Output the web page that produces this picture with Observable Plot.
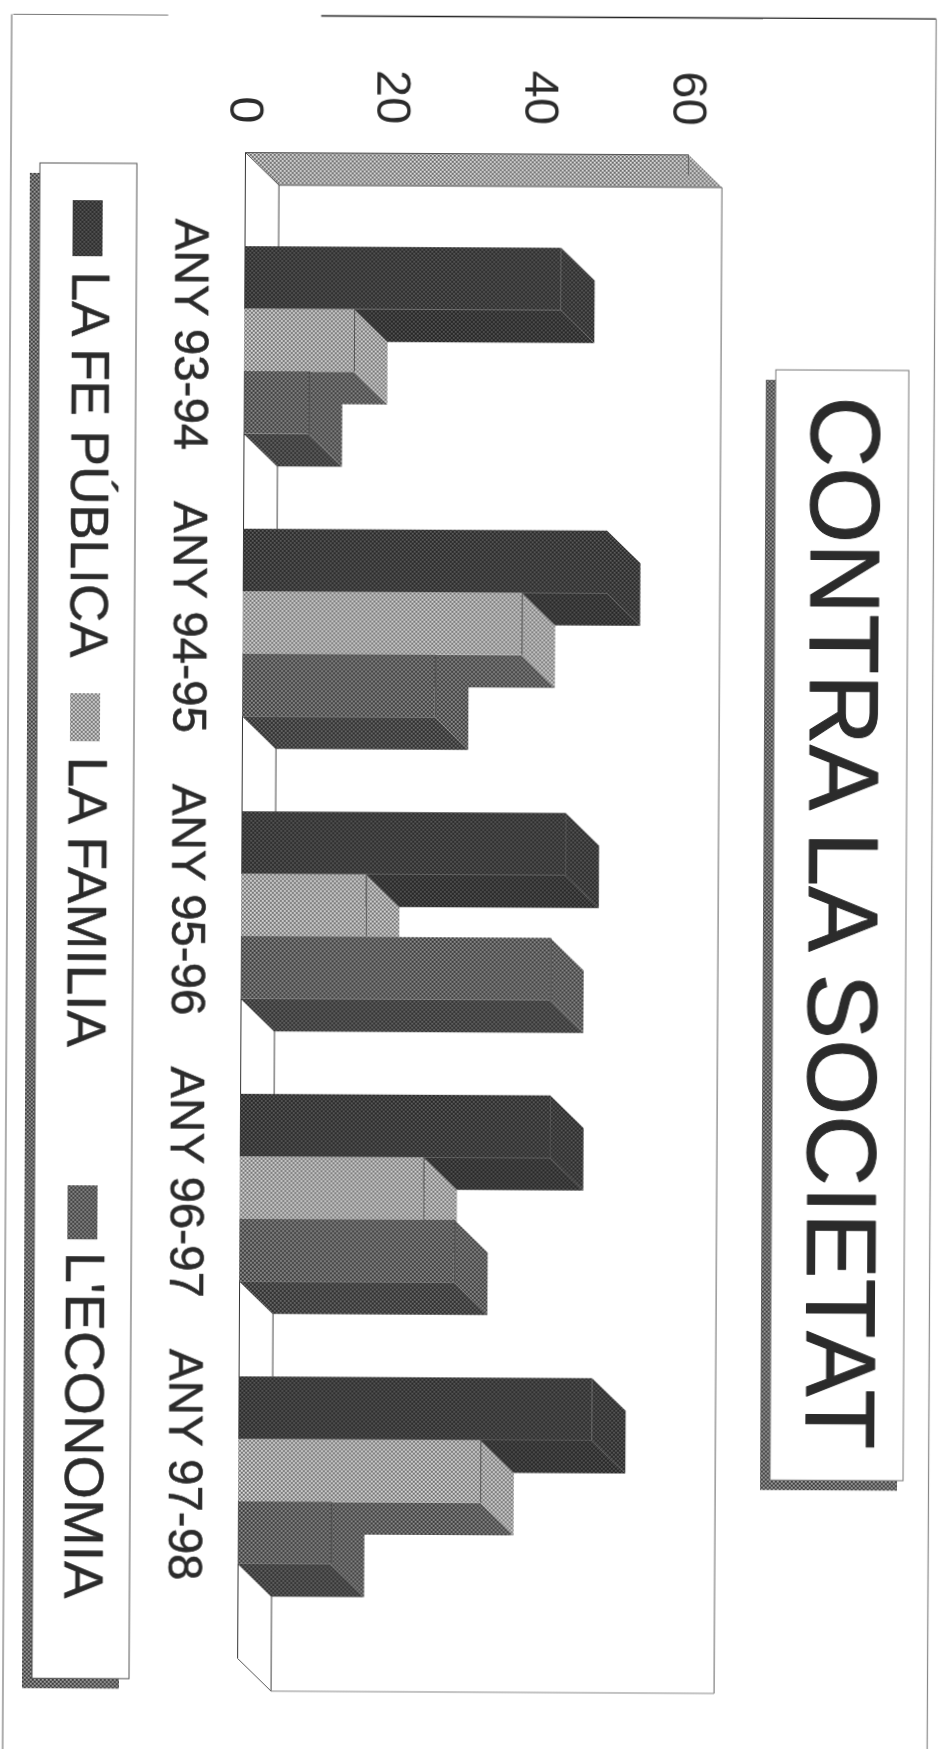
<!DOCTYPE html>
<html>
<head>
<meta charset="utf-8">
<style>
html,body{margin:0;padding:0;background:#fff;width:938px;height:1749px;overflow:hidden}
svg{display:block;transform-origin:245px 152px;transform:rotate(0.3deg);filter:blur(0.45px)}
</style>
<script src="https://cdn.jsdelivr.net/npm/d3@7"></script>
<script src="https://cdn.jsdelivr.net/npm/@observablehq/plot@0.6"></script>
</head>
<body>
<script>
const chartTitle = "CONTRA LA SOCIETAT";
const categories = ["ANY 93-94","ANY 94-95","ANY 95-96","ANY 96-97","ANY 97-98"];
const seriesNames = ["LA FE PÚBLICA","LA FAMILIA","L'ECONOMIA"];
const laFePublica = [42.9,49.3,43.9,42.0,47.9];
const laFamilia   = [14.9,37.8,16.9,24.9,32.8];
const lEconomia   = [8.8,26.1,41.9,29.1,12.6];
const valueTicks  = [0,20,40,60];

// layout in the chart's own scale units
const pxX = 443/60, pxY = 282.5;
const X = p => (p-245)/pxX, Y = p => (p-152)/pxY;
const depthX = 4.55, depthY = 0.115, outer = 0.3333, barH = 0.2212;
const FONT = "Liberation Sans, Arial, sans-serif";
const INK = "#2b2b2b";

const seriesValues = [laFePublica, laFamilia, lEconomia];
const looks = [
  {front:"url(#pDark)", end:"url(#pDark)",  bottom:"url(#pDarkSide)", edge:"none"},
  {front:"url(#pLight)",end:"url(#pLight)", bottom:"url(#pMid)",      edge:"#555"},
  {front:"url(#pMid)",  end:"url(#pMid)",   bottom:"url(#pMidSide)",  edge:"#4f4f4f"}
];

function quad(id, pts){
  return [
    {z:id,x1:pts[0][0],y1:pts[0][1],x2:pts[3][0],y2:pts[3][1]},
    {z:id,x1:pts[1][0],y1:pts[1][1],x2:pts[2][0],y2:pts[2][1]}
  ];
}
const areaOf = (rows, opts) => Plot.area(rows,{x1:"x1",y1:"y1",x2:"x2",y2:"y2",z:"z",...opts});
const seg = (x1,y1,x2,y2,stroke,w=1) => Plot.link([{x1,y1,x2,y2}],{x1:"x1",y1:"y1",x2:"x2",y2:"y2",stroke,strokeWidth:w});

const marks = [];

// page frame of the scan
marks.push(seg(X(12),Y(15),X(167),Y(15),"#777",1.2));
marks.push(seg(X(320),Y(15),X(935),Y(15),"#222",1.3));
marks.push(seg(X(10.5),Y(15),X(10.5),Y(1760),"#777",1.2));
marks.push(seg(X(935),Y(15),X(935),Y(1760),"#888",1.2));

// 3D box: top band, back wall lines
marks.push(areaOf(quad("band",[[0,0],[60,0],[60+depthX,depthY],[depthX,depthY]]),{fill:"url(#pBand)"}));
marks.push(seg(0,0,0,5.33,"#333"));
marks.push(seg(0,0,60,0,"#555"));
marks.push(seg(0,0,depthX,depthY,"#555"));
marks.push(seg(60,0,60,0.07,"#666"));
marks.push(seg(depthX,depthY,60+depthX,depthY,"#444"));
marks.push(seg(depthX,depthY,depthX,5.33+depthY,"#444"));
marks.push(seg(60+depthX,depthY,60+depthX,5.33+depthY,"#666"));
marks.push(seg(0,5.33,depthX,5.33+depthY,"#555"));
marks.push(seg(depthX,5.33+depthY,60+depthX,5.33+depthY,"#888"));

// bars
seriesValues.forEach((vals,k)=>{
  const rows = vals.map((v,g)=>({v,top:g+outer+k*barH,bottom:g+outer+(k+1)*barH}));
  const look = looks[k];
  marks.push(areaOf(rows.flatMap((d,i)=>quad("b"+i,[[0,d.bottom],[d.v,d.bottom],[d.v+depthX,d.bottom+depthY],[depthX,d.bottom+depthY]])),{fill:look.bottom}));
  marks.push(areaOf(rows.flatMap((d,i)=>quad("e"+i,[[d.v,d.top],[d.v+depthX,d.top+depthY],[d.v+depthX,d.bottom+depthY],[d.v,d.bottom]])),{fill:look.end}));
  marks.push(Plot.rect(rows,{x1:0,x2:"v",y1:"top",y2:"bottom",fill:look.front}));
  marks.push(Plot.ruleX(rows,{x:"v",y1:"top",y2:"bottom",stroke:look.edge,strokeWidth:1}));
});

// category labels
marks.push(Plot.text(categories,{
  x:X(191), y:(d,i)=>i+outer+1.5*barH-0.02, text:d=>d, rotate:90,
  fontSize:47.5, fill:INK, stroke:INK, strokeWidth:0.6, textAnchor:"middle", lineAnchor:"middle", fontFamily:FONT
}));

// value axis
marks.push(Plot.axisX({anchor:"top",ticks:valueTicks,tickSize:0,tickPadding:29,tickRotate:90,
  fontSize:49,fill:INK,stroke:INK,strokeWidth:0.6,label:null,fontFamily:FONT,tickFormat:d=>String(d)}));

// title box
marks.push(Plot.rect([0],{x1:X(767),x2:X(904),y1:Y(377),y2:Y(1487),fill:"url(#pShadow)"}));
marks.push(Plot.rect([0],{x1:X(777),x2:X(910),y1:Y(367),y2:Y(1477),fill:"#fff",stroke:"#777",strokeWidth:1}));
marks.push(Plot.text([chartTitle],{x:X(844),y:Y(919),text:d=>d,rotate:90,fontSize:98,fill:INK,stroke:INK,strokeWidth:1,
  textAnchor:"middle",lineAnchor:"middle",fontFamily:FONT}));

// legend box
marks.push(Plot.rect([0],{x1:X(30),x2:X(127),y1:Y(174),y2:Y(1689),fill:"url(#pShadow)"}));
marks.push(Plot.rect([0],{x1:X(40),x2:X(137),y1:Y(164),y2:Y(1679),fill:"#fff",stroke:"#555",strokeWidth:1}));
const legendFill = ["url(#pDark)","url(#pLight)","url(#pMid)"];
const swatchTop = [201,694,1186], swatchBottom = [257,742,1240], textTop = [272,757,1252], legendSize = [53,55,56];
marks.push(Plot.rect(seriesNames,{x1:X(73),x2:X(103),y1:(d,i)=>Y(swatchTop[i]),y2:(d,i)=>Y(swatchBottom[i]),fill:(d,i)=>i}));
seriesNames.forEach((name,i)=>marks.push(Plot.text([name],{x:X(89),y:Y(textTop[i]),text:d=>d,rotate:90,fontSize:legendSize[i],fill:INK,stroke:INK,strokeWidth:0.5,
  textAnchor:"start",lineAnchor:"middle",fontFamily:FONT})));

const svg = Plot.plot({
  width:938,height:1749,
  marginTop:152,marginBottom:91,marginLeft:245,marginRight:250,
  style:{background:"transparent",fontFamily:FONT,overflow:"visible"},
  x:{domain:[0,60],axis:null},
  y:{domain:[0,5.33],reverse:true,axis:null},
  color:{type:"ordinal",domain:[0,1,2],range:legendFill},
  marks
});

// halftone fills of the scan
const defs = d3.select(svg).insert("defs",":first-child");
function halftone(id,base,dark,light){
  const p = defs.append("pattern").attr("id",id).attr("width",4).attr("height",4).attr("patternUnits","userSpaceOnUse");
  p.append("rect").attr("width",4).attr("height",4).attr("fill",base);
  [[0,0],[2,2]].forEach(([x,y])=>p.append("rect").attr("x",x).attr("y",y).attr("width",1.6).attr("height",1.6).attr("fill",dark));
  [[2,0],[0,2]].forEach(([x,y])=>p.append("rect").attr("x",x).attr("y",y).attr("width",1.4).attr("height",1.4).attr("fill",light));
}
halftone("pDark","#3e3e3e","#262626","#5e5e5e");
halftone("pDarkSide","#393939","#222222","#585858");
halftone("pMid","#646464","#363636","#949494");
halftone("pMidSide","#484848","#2c2c2c","#6e6e6e");
halftone("pLight","#a8a8a8","#6e6e6e","#dcdcdc");
halftone("pBand","#a6a6a6","#6a6a6a","#e2e2e2");
halftone("pShadow","#6f6f6f","#3a3a3a","#a0a0a0");

document.body.appendChild(svg);
</script>
</body>
</html>
